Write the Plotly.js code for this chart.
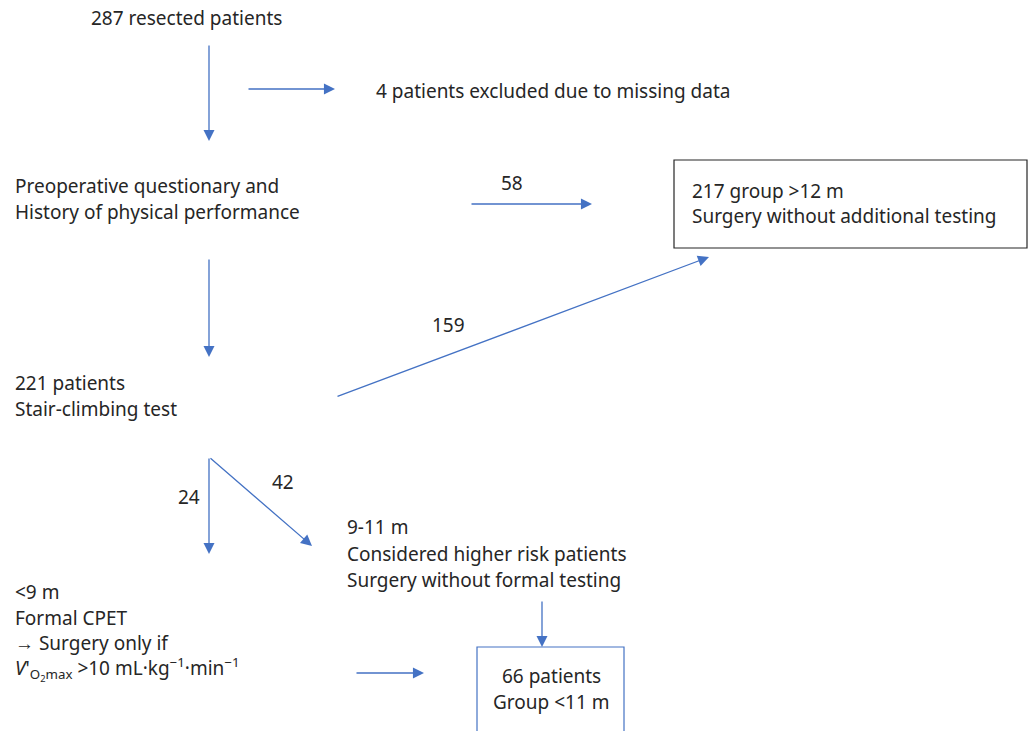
<!DOCTYPE html>
<html><head><meta charset="utf-8">
<script src="https://cdn.plot.ly/plotly-3.0.1.min.js"></script>
<style>html,body{margin:0;padding:0;background:#fff;}#c{width:1030px;height:731px;}</style>
</head><body><div id="c"></div>
<script>
// Flowchart counts
const nResected = 287;
const nExcluded = 4;
const nQuestionary = 58;
const nGroupHigh = 217;
const nStairHigh = 159;
const nStair = 221;
const nLow = 24;
const nMid = 42;
const nGroupLow = 66;

// Node labels (lines)
const topLabel = [nResected + ' resected patients'];
const excludedLabel = [nExcluded + ' patients excluded due to missing data'];
const questLabel = ['Preoperative questionary and', 'History of physical performance'];
const groupHighLabel = [nGroupHigh + ' group &gt;12 m', 'Surgery without additional testing'];
const stairLabel = [nStair + ' patients', 'Stair-climbing test'];
const midLabel = ['9-11 m', 'Considered higher risk patients', 'Surgery without formal testing'];
const lowLabel = ['&lt;9 m', 'Formal CPET', '\u2192 Surgery only if',
  "<i>V</i>'<sub>O<sub>2</sub>max</sub> &gt;10 mL\u00b7kg<sup>\u22121</sup>\u00b7min<sup>\u22121</sup>"];
const groupLowLabel = [nGroupLow + ' patients', 'Group &lt;11 m'];
const flowLabels = [String(nQuestionary), String(nStairHigh), String(nLow), String(nMid)];

const FONT = {family: '"Noto Sans", sans-serif', size: 19, color: '#262626'};
const BLUE = '#4472C4';
const LH = 25.5;

const ann = [];
function lines(arr, x, y0, anchor, lh) {
  arr.forEach((t, i) => ann.push({x: x, y: y0 + i * (lh || LH), xref: 'x', yref: 'y', text: t,
    showarrow: false, xanchor: anchor || 'left', yanchor: 'middle', font: FONT}));
}
function arrow(x0, y0, x1, y1) {
  ann.push({x: x1, y: y1, ax: x0, ay: y0, xref: 'x', yref: 'y', axref: 'x', ayref: 'y', text: '',
    showarrow: true, arrowhead: 2, arrowsize: 1.7, arrowwidth: 1.3, arrowcolor: BLUE, standoff: 0});
}

lines(topLabel, 186, 18, 'center');
lines(excludedLabel, 374, 91);
lines(questLabel, 13, 186);
lines(groupHighLabel, 690, 191, 'left', 24.5);
lines(stairLabel, 13, 383);
lines(midLabel, 345, 527, 'left', 26.5);
lines(lowLabel, 13, 592);
lines(groupLowLabel, 551, 676, 'center', 26);
lines([flowLabels[0]], 512, 183, 'center');
lines([flowLabels[1]], 448, 325, 'center');
lines([flowLabels[2]], 189, 497, 'center');
lines([flowLabels[3]], 283, 482, 'center');

arrow(209, 44, 209, 141);
arrow(247, 89, 335, 89);
arrow(470, 204, 592, 204);
arrow(209, 258, 209, 357);
arrow(336, 397, 709, 257);
arrow(209, 457, 209, 554);
arrow(209, 457, 312, 546);
arrow(542, 600, 542, 647);
arrow(355, 673, 424, 673);

const shapes = [
  {type: 'rect', xref: 'x', yref: 'y', x0: 674, x1: 1027, y0: 160, y1: 248, line: {color: '#262626', width: 1.2}},
  {type: 'rect', xref: 'x', yref: 'y', x0: 477, x1: 624, y0: 647, y1: 760, line: {color: BLUE, width: 1.2}}
];

const layout = {
  width: 1030, height: 731, margin: {l: 0, r: 0, t: 0, b: 0},
  paper_bgcolor: '#ffffff', plot_bgcolor: '#ffffff', showlegend: false,
  xaxis: {range: [0, 1030], visible: false, fixedrange: true},
  yaxis: {range: [731, 0], visible: false, fixedrange: true},
  annotations: ann, shapes: shapes
};
Plotly.newPlot('c', [{x: [], y: [], type: 'scatter'}], layout, {displayModeBar: false, staticPlot: true});
</script></body></html>
